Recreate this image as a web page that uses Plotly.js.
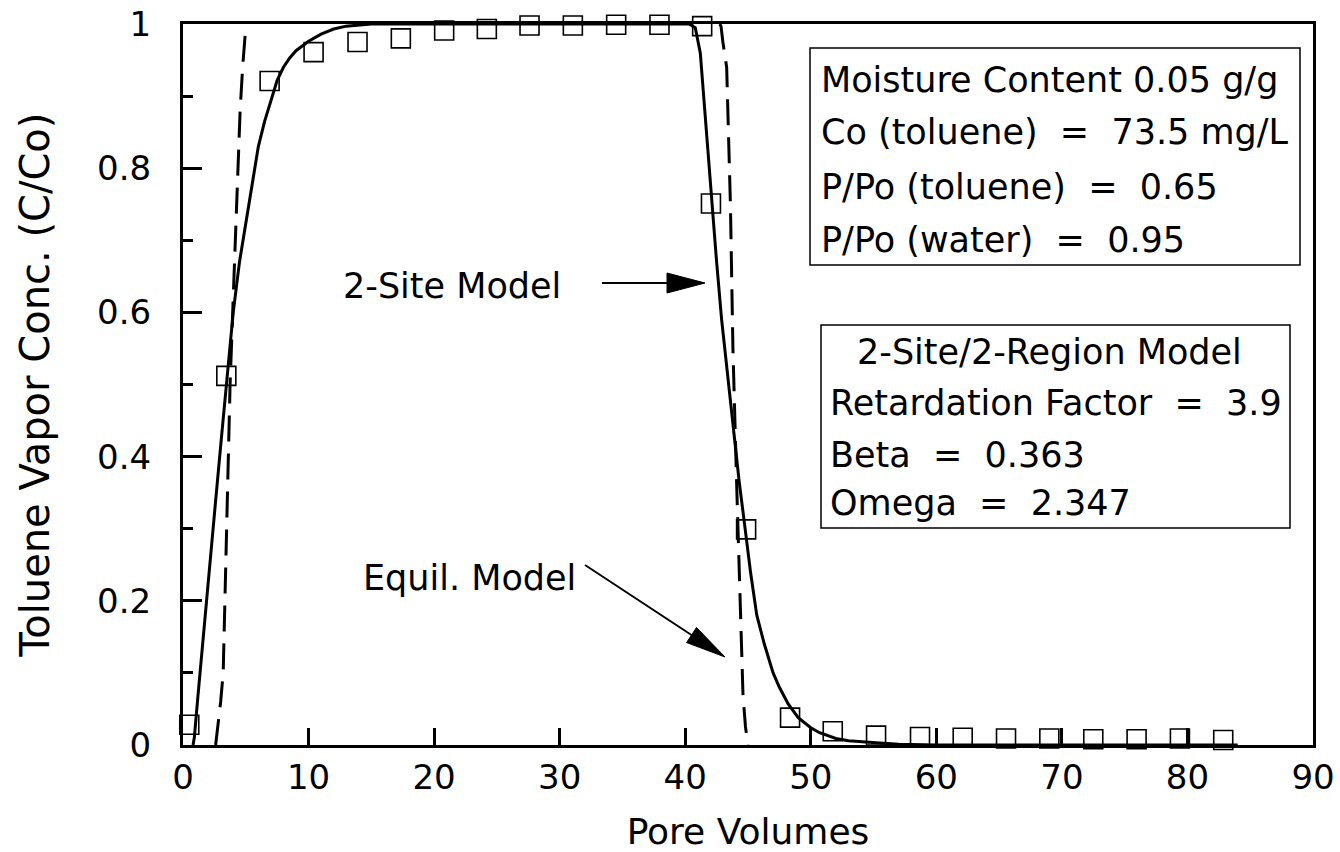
<!DOCTYPE html>
<html>
<head>
<meta charset="utf-8">
<script src="https://cdn.plot.ly/plotly-3.0.1.min.js"></script>
<style>html,body{margin:0;padding:0;background:#fff;}#chart{width:1340px;height:852px;}</style>
</head>
<body>
<div id="chart"></div>
<script>
// Observed data (open squares)
const obsX = [0.5, 3.45, 6.9, 10.4, 13.9, 17.35, 20.8, 24.2, 27.6, 31.05, 34.5, 37.95, 41.35, 42.05, 44.85, 48.35, 51.75, 55.2, 58.7, 62.1, 65.55, 69.0, 72.5, 75.95, 79.4, 82.85];
const obsY = [0.028, 0.512, 0.921, 0.961, 0.975, 0.980, 0.991, 0.993, 0.998, 0.998, 0.999, 0.999, 0.997, 0.751, 0.299, 0.038, 0.019, 0.013, 0.011, 0.010, 0.009, 0.009, 0.008, 0.008, 0.009, 0.007];

// 2-Site model (solid)
const siteX = [0.8, 0.9, 1.2, 1.6, 2.0, 2.5, 3.0, 3.5, 4.0, 4.5, 5.0, 5.5, 6.0, 6.5, 7.0, 7.5, 8.0, 8.5, 9.0, 10.0, 11.0, 12.0, 13.0, 14.0, 15.0, 40.3,
  40.8, 41.2, 41.6, 42.0, 42.5, 42.9, 43.4, 43.8, 44.3, 44.8, 45.2, 45.7, 46.3, 47.0, 47.5, 48.2, 49.0, 50.0, 50.7, 52.0, 53.0, 55.2, 57.0, 60.0, 84.0];
const siteY = [0.0, 0.01, 0.07, 0.15, 0.225, 0.32, 0.415, 0.51, 0.6, 0.67, 0.725, 0.775, 0.83, 0.865, 0.895, 0.922, 0.94, 0.953, 0.963, 0.976, 0.986, 0.993, 0.997, 0.999, 1.0, 1.0,
  0.995, 0.96, 0.87, 0.77, 0.67, 0.59, 0.51, 0.44, 0.365, 0.296, 0.24, 0.18, 0.14, 0.10, 0.08, 0.057, 0.038, 0.024, 0.017, 0.009, 0.006, 0.003, 0.001, 0.0, 0.0];

// Equilibrium model (dashed) — breakthrough front and elution front
const eqX = [2.6, 2.75, 3.0, 3.2, 3.45, 3.75, 4.0, 4.2, 4.35, 4.55, 4.75, 4.95, null,
  42.75, 42.85, 43.0, 43.3, 43.6, 43.8, 44.1, 44.4, 44.6, 44.8, 45.0];
const eqY = [0.0, 0.02, 0.06, 0.1, 0.28, 0.5, 0.62, 0.71, 0.8, 0.88, 0.94, 0.985, null,
  1.0, 0.997, 0.975, 0.94, 0.75, 0.55, 0.36, 0.167, 0.07, 0.025, 0.0];

const xTitle = 'Pore Volumes';
const yTitle = 'Toluene Vapor Conc. (C/Co)';
const box1Lines = ['Moisture Content 0.05 g/g', 'Co (toluene)  =  73.5 mg/L', 'P/Po (toluene)  =  0.65', 'P/Po (water)  =  0.95'];
const box2Title = '2-Site/2-Region Model';
const box2Lines = ['Retardation Factor  =  3.9', 'Beta  =  0.363', 'Omega  =  2.347'];
const label2Site = '2-Site Model';
const labelEquil = 'Equil. Model';

const FONT = 'DejaVu Sans, Liberation Sans, Arial, sans-serif';

// plot-area pixel geometry (for decorations)
const L = 183, R = 1313, T = 24, B = 745;
const px = v => (v - L) / (R - L);
const py = v => (B - v) / (B - T);

function arrow(tx, ty, hx, hy, headLen, headW) {
  const dx = hx - tx, dy = hy - ty, len = Math.hypot(dx, dy);
  const ux = dx / len, uy = dy / len;
  const bx = hx - ux * headLen, by = hy - uy * headLen;
  const nx = -uy * headW / 2, ny = ux * headW / 2;
  return [
    {type: 'line', xref: 'paper', yref: 'paper', x0: px(tx), y0: py(ty), x1: px(bx + ux * 4), y1: py(by + uy * 4), line: {color: '#000', width: 2}},
    {type: 'path', xref: 'paper', yref: 'paper',
     path: `M ${px(hx)} ${py(hy)} L ${px(bx + nx)} ${py(by + ny)} L ${px(bx - nx)} ${py(by - ny)} Z`,
     fillcolor: '#000', line: {color: '#000', width: 1}}
  ];
}

const traces = [
  {x: siteX, y: siteY, type: 'scatter', mode: 'lines', line: {color: '#000', width: 3}, hoverinfo: 'skip'},
  {x: eqX, y: eqY, type: 'scatter', mode: 'lines', connectgaps: false, line: {color: '#000', width: 3, dash: '26px,12px'}, hoverinfo: 'skip'},
  {x: obsX, y: obsY, type: 'scatter', mode: 'markers', cliponaxis: false,
   marker: {symbol: 'square-open', size: 19, color: '#000', line: {color: '#000', width: 1.6}}}
];

const TXT = {family: FONT, size: 35, color: '#000'};
const annotations = [];
const b1y = [80, 132, 187, 240];
box1Lines.forEach((t, i) => annotations.push({xref: 'paper', yref: 'paper', x: px(819), y: py(b1y[i]), xanchor: 'left', yanchor: 'middle', text: t, showarrow: false, font: TXT}));
annotations.push({xref: 'paper', yref: 'paper', x: px(1049), y: py(352), xanchor: 'center', yanchor: 'middle', text: box2Title, showarrow: false, font: TXT});
const b2y = [403, 455, 503];
box2Lines.forEach((t, i) => annotations.push({xref: 'paper', yref: 'paper', x: px(828), y: py(b2y[i]), xanchor: 'left', yanchor: 'middle', text: t, showarrow: false, font: TXT}));
annotations.push({xref: 'paper', yref: 'paper', x: px(341), y: py(286), xanchor: 'left', yanchor: 'middle', text: label2Site, showarrow: false, font: TXT});
annotations.push({xref: 'paper', yref: 'paper', x: px(361), y: py(578), xanchor: 'left', yanchor: 'middle', text: labelEquil, showarrow: false, font: TXT});

const shapes = [
  {type: 'rect', xref: 'paper', yref: 'paper', x0: px(810), x1: px(1300), y0: py(265), y1: py(48), line: {color: '#000', width: 1.5}, fillcolor: 'rgba(0,0,0,0)'},
  {type: 'rect', xref: 'paper', yref: 'paper', x0: px(821), x1: px(1290), y0: py(528), y1: py(325), line: {color: '#000', width: 1.5}, fillcolor: 'rgba(0,0,0,0)'},
  ...arrow(602, 283, 705, 283, 38, 20),
  ...arrow(585, 565, 725, 657, 40, 18)
];

const layout = {
  width: 1340, height: 852,
  margin: {l: L, r: 1340 - R, t: T, b: 852 - B},
  paper_bgcolor: '#fff', plot_bgcolor: '#fff',
  showlegend: false,
  font: {family: FONT, color: '#000'},
  xaxis: {
    range: [0, 90], dtick: 10, tick0: 0, ticks: 'inside', ticklen: 17, tickwidth: 3, tickcolor: '#000',
    showline: true, linewidth: 3, linecolor: '#000', mirror: true, showgrid: false, zeroline: false,
    tickfont: {family: FONT, size: 34, color: '#000'}, ticklabelstandoff: 0,
    title: {text: xTitle, font: {family: FONT, size: 36, color: '#000'}, standoff: 28}
  },
  yaxis: {
    range: [0, 1], dtick: 0.2, tick0: 0, ticks: 'inside', ticklen: 19, tickwidth: 3, tickcolor: '#000',
    minor: {dtick: 0.1, ticks: 'inside', ticklen: 10, tickwidth: 3, tickcolor: '#000', showgrid: false},
    showline: true, linewidth: 3, linecolor: '#000', mirror: true, showgrid: false, zeroline: false,
    tickfont: {family: FONT, size: 34, color: '#000'}, ticklabelstandoff: 22,
    title: {text: yTitle, font: {family: FONT, size: 40, color: '#000'}, standoff: 36}
  },
  annotations: annotations,
  shapes: shapes
};

Plotly.newPlot('chart', traces, layout, {displayModeBar: false, staticPlot: true});
</script>
</body>
</html>
